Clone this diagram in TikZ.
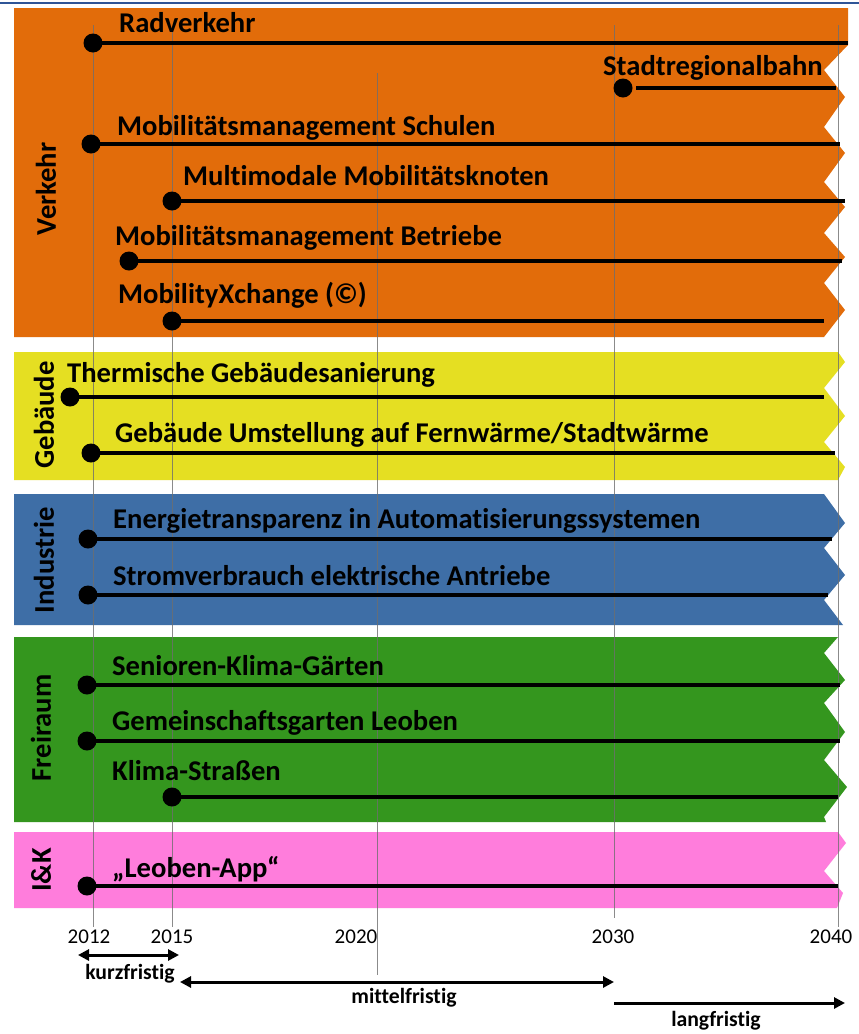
\documentclass[tikz,border=0pt]{standalone}
\usepackage{fontspec}
\setmainfont{Carlito}[Ligatures=NoCommon]
\usetikzlibrary{arrows.meta}

\definecolor{topblue}{RGB}{47,85,151}
\definecolor{cVerkehr}{RGB}{226,108,10}
\definecolor{cGebaeude}{RGB}{229,223,34}
\definecolor{cIndustrie}{RGB}{62,110,166}
\definecolor{cFreiraum}{RGB}{52,150,30}
\definecolor{cIuK}{RGB}{255,125,220}
\definecolor{gridgray}{RGB}{110,110,110}

\begin{document}
\begin{tikzpicture}[x=1pt,y=-1pt,
  >={Triangle[length=11pt,width=11pt]},
  yearline/.style={draw=gridgray, line width=0.9pt, opacity=0.8},
  track/.style={line width=4pt, black},
  dot/.style={circle, fill=black, inner sep=0pt, minimum size=19pt},
  lbl/.style={anchor=base west, inner sep=0pt, font=\fontsize{28.6}{32}\selectfont\bfseries},
  sect/.style={rotate=90, inner sep=0pt, font=\fontsize{28.6}{32}\selectfont\bfseries},
  year/.style={anchor=base, inner sep=0pt, font=\fontsize{21}{25}\selectfont},
  spanarrow/.style={line width=3pt, black},
  spanlbl/.style={anchor=base, inner sep=0pt, font=\fontsize{21.7}{25}\selectfont\bfseries}]

\useasboundingbox (0,0) rectangle (859,1034);
\fill[white] (0,0) rectangle (859,1034);
\draw[line width=2pt, topblue] (0,3) -- (859,3);

% ---- category bands with notched right edges ----
\fill[cVerkehr] (14,8) -- (848,8) -- (848,45) -- (824,70) -- (845,97) -- (824,127)
  -- (845,153) -- (824,182) -- (845,207) -- (824,233) -- (845,257) -- (824,283)
  -- (845,310) -- (824,337) -- (14,337) -- cycle;
\fill[cGebaeude] (14,352) -- (838,352) -- (845,362) -- (824,388) -- (845,416)
  -- (824,442) -- (845,467) -- (838,480) -- (14,480) -- cycle;
\fill[cIndustrie] (14,494) -- (824,494) -- (845,523) -- (824,548) -- (845,575)
  -- (824,600) -- (843,625) -- (14,625) -- cycle;
\fill[cFreiraum] (14,637) -- (838,637) -- (824,653) -- (845,680) -- (824,703)
  -- (845,732) -- (824,760) -- (847,787) -- (824,817) -- (826,822) -- (14,822) -- cycle;
\fill[cIuK] (14,832) -- (838,832) -- (846,843) -- (824,871) -- (843,893)
  -- (837,908) -- (14,908) -- cycle;

% ---- year grid lines ----
\coordinate (y12t) at (93,25);  \coordinate (y12b) at (93,927);
\coordinate (y15t) at (172,30); \coordinate (y15b) at (172,927);
\coordinate (y20t) at (377,73); \coordinate (y20b) at (377,975);
\coordinate (y30t) at (614,25); \coordinate (y30b) at (614,918);
\coordinate (y40t) at (838,25); \coordinate (y40b) at (838,927);
\foreach \yr in {12,15,20,30,40} \draw[yearline] (y\yr t) -- (y\yr b);

% ---- category titles ----
\node[sect] (sV) at (46,189) {Verkehr};
\node[sect] (sG) at (44,415) {Gebäude};
\node[sect] (sI) at (44,560) {Industrie};
\node[sect] (sF) at (41,728) {Freiraum};
\node[sect] (sK) at (41,870) {I\&K};

% ---- measures: start dot, running line, label ----
% Verkehr
\node[dot] (d1) at (93,43) {};   \coordinate (e1) at (848,43);
\draw[track] (d1.center) -- (e1);
\node[lbl] (l1) at (119,32) {Radverkehr};

\node[dot] (d2) at (623,88) {};  \coordinate (s2) at (636,88); \coordinate (e2) at (836,88);
\draw[track] (s2) -- (e2);
\node[lbl] (l2) at (603,75) {Stadtregionalbahn};

\node[dot] (d3) at (91,144) {};  \coordinate (e3) at (840,144);
\draw[track] (d3.center) -- (e3);
\node[lbl] (l3) at (117,135) {Mobilitätsmanagement Schulen};

\node[dot] (d4) at (172,201) {}; \coordinate (e4) at (845,201);
\draw[track] (d4.center) -- (e4);
\node[lbl] (l4) at (183,185) {Multimodale Mobilitätsknoten};

\node[dot] (d5) at (129,261) {}; \coordinate (e5) at (842,261);
\draw[track] (d5.center) -- (e5);
\node[lbl] (l5) at (115,245) {Mobilitätsmanagement Betriebe};

\node[dot] (d6) at (172,321) {}; \coordinate (e6) at (824,321);
\draw[track] (d6.center) -- (e6);
\node[lbl] (l6) at (118,303) {MobilityXchange (©)};

% Gebäude
\node[dot] (d7) at (70,397) {};  \coordinate (e7) at (824,397);
\draw[track] (d7.center) -- (e7);
\node[lbl] (l7) at (67,382) {Thermische Gebäudesanierung};

\node[dot] (d8) at (91,453) {};  \coordinate (e8) at (835,453);
\draw[track] (d8.center) -- (e8);
\node[lbl] (l8) at (115,442) {Gebäude Umstellung auf Fernwärme/Stadtwärme};

% Industrie
\node[dot] (d9) at (88,539) {};  \coordinate (e9) at (832,539);
\draw[track] (d9.center) -- (e9);
\node[lbl] (l9) at (113,528) {Energietransparenz in Automatisierungssystemen};

\node[dot] (d10) at (88,595) {}; \coordinate (e10) at (828,595);
\draw[track] (d10.center) -- (e10);
\node[lbl] (l10) at (113,585) {Stromverbrauch elektrische Antriebe};

% Freiraum
\node[dot] (d11) at (87,685) {}; \coordinate (e11) at (840,685);
\draw[track] (d11.center) -- (e11);
\node[lbl] (l11) at (112,675) {Senioren-Klima-Gärten};

\node[dot] (d12) at (87,741) {}; \coordinate (e12) at (840,741);
\draw[track] (d12.center) -- (e12);
\node[lbl] (l12) at (112,730) {Gemeinschaftsgarten Leoben};

\node[dot] (d13) at (172,797) {}; \coordinate (e13) at (838,797);
\draw[track] (d13.center) -- (e13);
\node[lbl] (l13) at (112,780) {Klima-Straßen};

% I&K
\node[dot] (d14) at (87,886) {}; \coordinate (e14) at (838,886);
\draw[track] (d14.center) -- (e14);
\node[lbl] (l14) at (112,877) {„Leoben-App“};

% ---- time axis ----
\node[year] (t12) at (89,943)  {2012};
\node[year] (t15) at (172,943) {2015};
\node[year] (t20) at (356,943) {2020};
\node[year] (t30) at (613,943) {2030};
\node[year] (t40) at (831,943) {2040};

\coordinate (k1) at (78,955);   \coordinate (k2) at (179,955);
\coordinate (m1) at (180,982);  \coordinate (m2) at (614,982);
\coordinate (g1) at (614,1003); \coordinate (g2) at (845,1003);
\draw[spanarrow, <->] (k1) -- (k2);
\draw[spanarrow, <->] (m1) -- (m2);
\draw[spanarrow, ->] (g1) -- (g2);
\node[spanlbl] (kz) at (130,979)  {kurzfristig};
\node[spanlbl] (mf) at (404,1003) {mittelfristig};
\node[spanlbl] (lf) at (716,1026) {langfristig};

\end{tikzpicture}
\end{document}
